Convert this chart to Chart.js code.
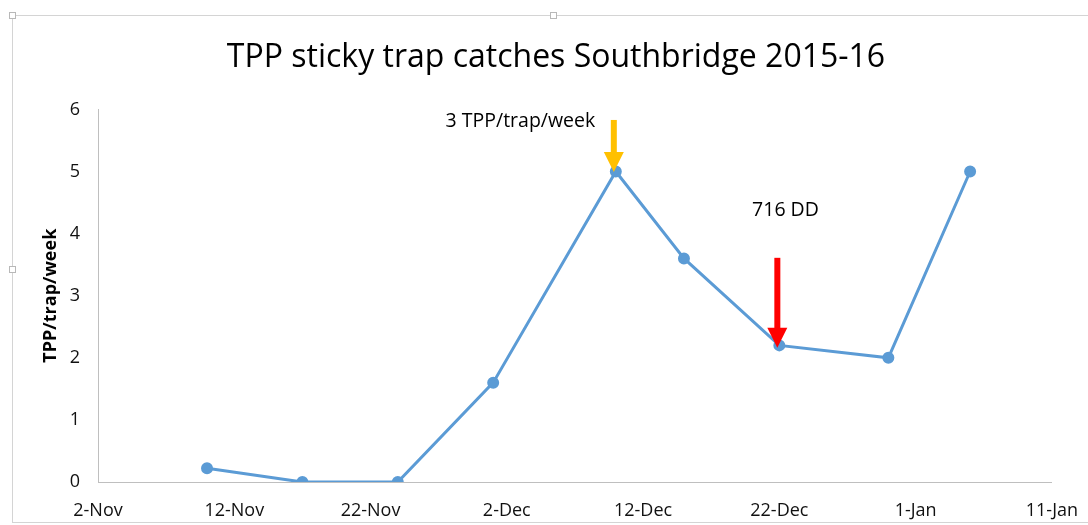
<!DOCTYPE html>
<html>
<head>
<meta charset="utf-8">
<script src="https://cdn.jsdelivr.net/npm/chart.js@4.4.1/dist/chart.umd.min.js"></script>
<style>
  html, body { margin: 0; padding: 0; background: #fff; }
  body { width: 1088px; height: 525px; position: relative; overflow: hidden; }
  #frame { position: absolute; left: 12px; top: 15px; width: 1090px; height: 508px; border: 1px solid #d4d4d4; box-sizing: border-box; }
  .handle { position: absolute; width: 5px; height: 5px; border: 1px solid #b8b8b8; background: #fff; }
  canvas { position: absolute; left: 0; top: 0; }
</style>
</head>
<body>
<div id="frame"></div>
<div class="handle" style="left:9px;top:12px"></div>
<div class="handle" style="left:550px;top:12px"></div>
<div class="handle" style="left:9px;top:266px"></div>
<canvas id="chart" width="1088" height="525"></canvas>
<script>
// Catches de TPP por semana (leituras do gráfico original)
const sampleDates = ["10-Nov", "17-Nov", "24-Nov", "1-Dec", "10-Dec", "15-Dec", "22-Dec", "30-Dec", "5-Jan"]
const catches = [0.22, 0, 0, 1.6, 5, 3.6, 2.2, 2.0, 5]
const tickLabels = ["2-Nov", "12-Nov", "22-Nov", "2-Dec", "12-Dec", "22-Dec", "1-Jan", "11-Jan"]

const notes = [
  { text: "3 TPP/trap/week", at: "3-Dec", value: 5.8, align: "center" },
  { text: "716 DD", at: "20-Dec", value: 4.37, align: "left" }
]
const arrows = [
  { at: "10-Dec", from: 5.83, to: 4.99, color: "#FFC000" },
  { at: "22-Dec", from: 3.61, to: 2.16, color: "#FF0000" }
]

const MONTHS = { Nov: 10, Dec: 11, Jan: 0 }
const START = Date.UTC(2015, 10, 2)
const dayOf = (s) => {
  const [d, m] = s.split("-")
  const year = m === "Jan" ? 2016 : 2015
  return (Date.UTC(year, MONTHS[m], +d) - START) / 86400000
}

const FONT = "'Open Sans', sans-serif"

const annotations = {
  id: "annotations",
  afterDatasetsDraw(chart) {
    const { ctx, scales: { x, y } } = chart
    ctx.save()
    arrows.forEach((a) => {
      const px = x.getPixelForValue(dayOf(a.at)) - 2
      const top = y.getPixelForValue(a.from)
      const tip = y.getPixelForValue(a.to)
      const head = 20
      ctx.fillStyle = a.color
      ctx.fillRect(px - 3, top, 6, tip - top - head + 1)
      ctx.beginPath()
      ctx.moveTo(px - 10, tip - head)
      ctx.lineTo(px + 10, tip - head)
      ctx.lineTo(px, tip)
      ctx.closePath()
      ctx.fill()
    })
    ctx.fillStyle = "#000"
    ctx.font = `19.5px ${FONT}`
    ctx.textBaseline = "middle"
    notes.forEach((n) => {
      ctx.textAlign = n.align
      ctx.fillText(n.text, x.getPixelForValue(dayOf(n.at)), y.getPixelForValue(n.value))
    })
    ctx.restore()
  }
}

new Chart(document.getElementById("chart"), {
  type: "line",
  data: {
    datasets: [{
      data: sampleDates.map((d, i) => ({ x: dayOf(d), y: catches[i] })),
      borderColor: "#5B9BD5",
      backgroundColor: "#5B9BD5",
      borderWidth: 3,
      pointRadius: 4.5,
      pointHoverRadius: 4.5,
      tension: 0
    }]
  },
  options: {
    responsive: false,
    animation: false,
    events: [],
    layout: { padding: { left: 60, right: 36, top: 0, bottom: 0 } },
    plugins: {
      legend: { display: false },
      tooltip: { enabled: false },
      title: {
        display: true,
        text: "TPP sticky trap catches Southbridge 2015-16",
        color: "#000",
        font: { family: FONT, size: 32, weight: "normal" },
        padding: { top: 39, bottom: 32 }
      }
    },
    scales: {
      x: {
        type: "linear",
        min: 0,
        max: 70,
        afterFit: (s) => { s.height = 43 },
        ticks: {
          stepSize: 10,
          color: "#111",
          padding: 10,
          font: { family: FONT, size: 18 },
          callback: (v) => tickLabels[v / 10]
        },
        grid: { display: false },
        border: { display: true, color: "#bfbfbf", width: 1 }
      },
      y: {
        min: 0,
        max: 6,
        afterFit: (s) => { s.width = 38 },
        ticks: {
          stepSize: 1,
          color: "#111",
          padding: 10,
          font: { family: FONT, size: 18 }
        },
        grid: { display: false },
        border: { display: true, color: "#bfbfbf", width: 1 },
        title: {
          display: true,
          text: "TPP/trap/week",
          color: "#000",
          font: { family: FONT, size: 18, weight: "bold" },
          padding: { top: -20, bottom: 0 }
        }
      }
    }
  },
  plugins: [annotations]
})
</script>
</body>
</html>
